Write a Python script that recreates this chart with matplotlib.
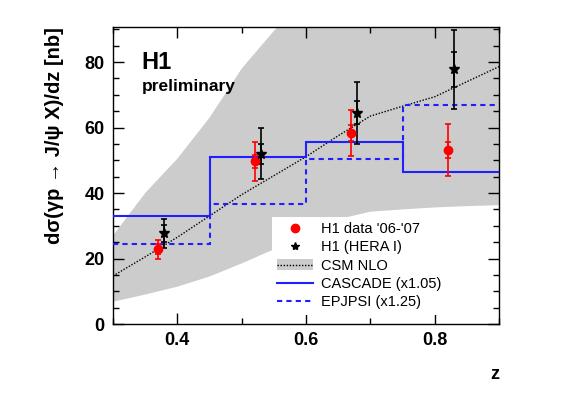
import matplotlib
matplotlib.use("Agg")
import matplotlib.pyplot as plt
from matplotlib.lines import Line2D
from matplotlib.patches import Patch
from matplotlib.ticker import MultipleLocator

plt.rcParams['font.family'] = ['Liberation Sans', 'DejaVu Sans']

# H1 data '06-'07
h1_z = [0.37, 0.52, 0.67, 0.82]
h1_y = [22.8, 49.7, 58.3, 53.1]
h1_stat = [1.5, 2.0, 2.5, 2.5]
h1_tot = [3.0, 6.0, 7.0, 7.9]

# H1 (HERA I)
hera_z = [0.38, 0.53, 0.68, 0.83]
hera_y = [27.7, 52.0, 64.5, 77.8]
hera_stat = [2.5, 3.0, 3.5, 5.3]
hera_tot = [4.5, 7.8, 9.5, 12.0]

# histogram predictions
bin_edges = [0.3, 0.45, 0.6, 0.75, 0.9]
cascade = [33.1, 51.1, 55.7, 46.3]
epjpsi = [24.4, 36.6, 50.3, 67.0]

# CSM NLO central line and band
csm_z = [0.3, 0.35, 0.4, 0.45, 0.5, 0.55, 0.6, 0.65, 0.7, 0.75, 0.8, 0.85, 0.9]
csm_y = [14.7, 20.5, 26.5, 33.0, 39.5, 45.3, 51.1, 57.5, 63.5, 66.5, 69.4, 74.0, 78.6]
band_lo = [6.8, 9.0, 11.4, 14.5, 18.5, 22.8, 27.5, 32.0, 34.3, 35.0, 35.6, 36.0, 36.3]
band_hi = [27.0, 40.0, 50.5, 63.0, 78.0, 89.5, 100.0, 108.0, 115.0, 120.0, 125.0, 130.0, 135.0]

BLUE = '#1f1fff'
DOT = (0, (1, 1.2))
DASH = (0, (2.5, 2))

fig = plt.figure(figsize=(5.67, 3.95), dpi=100)
ax = fig.add_axes([0.1993, 0.1797, 0.6808, 0.7519])

ax.fill_between(csm_z, band_lo, band_hi, color='#cccccc', lw=0, zorder=1)
ax.plot(csm_z, csm_y, color='black', ls=DOT, lw=1.0, zorder=3)

ax.stairs(cascade, bin_edges, baseline=None, color=BLUE, lw=1.5, zorder=4)
ax.stairs(epjpsi, bin_edges, baseline=None, color=BLUE, lw=1.5, ls=DASH, zorder=4)

# error bars: total and stat
for yerr in (h1_tot, h1_stat):
    ax.errorbar(h1_z, h1_y, yerr=yerr, fmt='none', ecolor='red', elinewidth=1.2,
                capsize=2.5, capthick=1.2, zorder=5)
ax.plot(h1_z, h1_y, 'o', color='red', ms=6, zorder=6)

for yerr in (hera_tot, hera_stat):
    ax.errorbar(hera_z, hera_y, yerr=yerr, fmt='none', ecolor='black', elinewidth=1.2,
                capsize=2.5, capthick=1.2, zorder=5)
ax.plot(hera_z, hera_y, '*', color='black', ms=7, zorder=6)

ax.set_xlim(0.3, 0.9)
ax.set_ylim(0, 90.7)
ax.xaxis.set_major_locator(MultipleLocator(0.2))
ax.xaxis.set_minor_locator(MultipleLocator(0.1))
ax.yaxis.set_major_locator(MultipleLocator(20))
ax.yaxis.set_minor_locator(MultipleLocator(5))
ax.tick_params(which='both', direction='in', top=True, right=True, width=1)
ax.tick_params(which='major', length=8, pad=6, labelsize=13)
ax.tick_params(which='minor', length=4)
for lab in ax.get_xticklabels() + ax.get_yticklabels():
    lab.set_fontweight('bold')
for s in ax.spines.values():
    s.set_linewidth(1)

ax.set_xlabel('z', loc='right', fontsize=13, fontweight='bold', labelpad=12)
ax.set_ylabel('dσ(γp → J/ψ X)/dz [nb]', loc='top',
              fontsize=14.5, fontweight='bold', labelpad=15)

ax.text(0.074, 0.88, 'H1', transform=ax.transAxes, fontsize=17, fontweight='bold', va='center')
ax.text(0.074, 0.80, 'preliminary', transform=ax.transAxes, fontsize=12.5, fontweight='bold', va='center')

handles = [
    Line2D([], [], marker='o', color='red', ls='none', ms=6),
    Line2D([], [], marker='*', color='black', ls='none', ms=6),
    (Patch(facecolor='#cccccc', edgecolor='none'), Line2D([], [], color='black', ls=DOT, lw=1.0)),
    Line2D([], [], color=BLUE, lw=1.5),
    Line2D([], [], color=BLUE, lw=1.5, ls=DASH),
]
labels = ["H1 data '06-'07", 'H1 (HERA I)', 'CSM NLO', 'CASCADE (x1.05)', 'EPJPSI (x1.25)']
leg = ax.legend(handles, labels, loc='upper left', bbox_to_anchor=(0.412, 0.361),
                fontsize=10.5, frameon=True, fancybox=False, framealpha=1,
                facecolor='white', edgecolor='none', borderpad=0.35,
                labelspacing=0.3, handlelength=2.45, handletextpad=0.55,
                borderaxespad=0)
leg.set_zorder(7)

fig.savefig('out.png', dpi=100)
